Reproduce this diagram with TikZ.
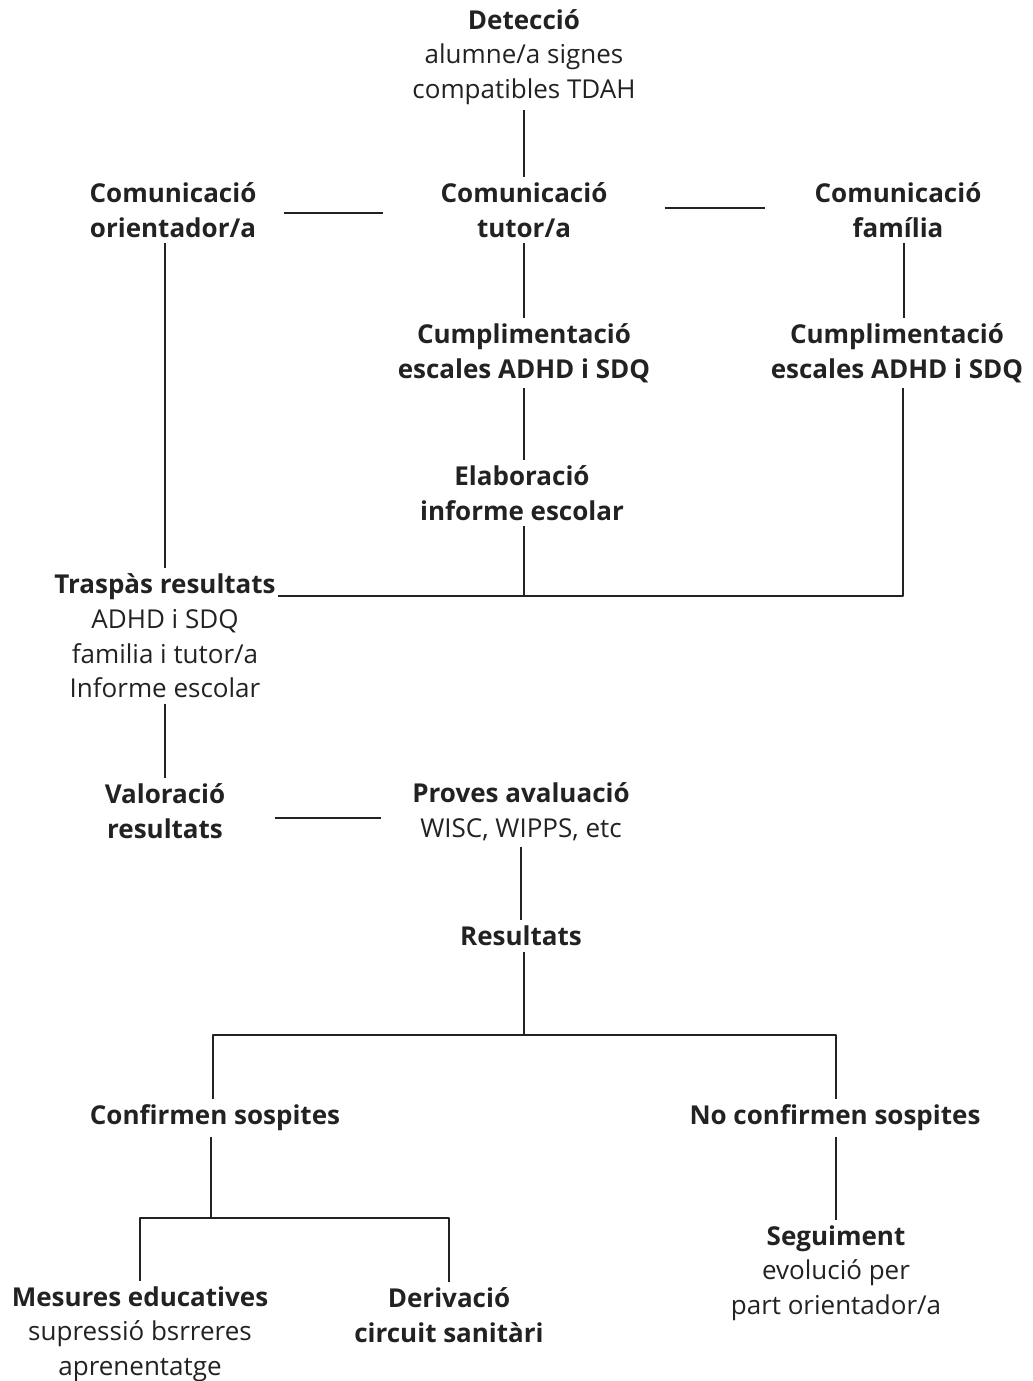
\documentclass[tikz,border=0pt]{standalone}
\usepackage{fontspec}
\setmainfont{Open Sans}
\definecolor{ink}{HTML}{222222}
\tikzset{
  box/.style={align=center, text=ink, inner xsep=0pt, inner ysep=4pt, font=\fontsize{19.5}{26}\selectfont},
  link/.style={draw=ink, line width=1.6pt}
}
\begin{document}
\begin{tikzpicture}[x=0.75pt, y=-0.75pt, line join=round]
\useasboundingbox (0,0) rectangle (1032,1381);

\node[box] (det) at (524,57) {\textbf{Detecció}\\alumne/a signes\\compatibles TDAH};
\node[box] (tut) at (524,210) {\textbf{Comunicació}\\\textbf{tutor/a}};
\node[box] (ori) at (173,210) {\textbf{Comunicació}\\\textbf{orientador/a}};
\node[box] (fam) at (898,210) {\textbf{Comunicació}\\\textbf{família}};
\node[box] (cumt) at (524,353) {\textbf{Cumplimentació}\\\textbf{escales ADHD i SDQ}};
\node[box] (cumf) at (897,353) {\textbf{Cumplimentació}\\\textbf{escales ADHD i SDQ}};
\node[box] (ela) at (522,493) {\textbf{Elaboració}\\\textbf{informe escolar}};
\node[box] (tra) at (165,636) {\textbf{Traspàs resultats}\\ADHD i SDQ\\familia i tutor/a\\Informe escolar};
\node[box] (val) at (165,811) {\textbf{Valoració}\\\textbf{resultats}};
\node[box] (pro) at (521,812) {\textbf{Proves avaluació}\\WISC, WIPPS, etc};
\node[box] (res) at (521,936) {\textbf{Resultats}};
\node[box] (con) at (215,1118) {\textbf{Confirmen sospites}};
\node[box] (nocon) at (835,1118) {\textbf{No confirmen sospites}};
\node[box] (mes) at (140,1334) {\textbf{Mesures educatives}\\supressió bsrreres\\aprenentatge};
\node[box] (der) at (449,1315) {\textbf{Derivació}\\\textbf{circuit sanitàri}};
\node[box] (seg) at (836,1273) {\textbf{Seguiment}\\evolució per\\part orientador/a};

\coordinate (trj) at (278,596);
\coordinate (resj) at (524,1035);
\coordinate (conj) at (211,1218);

\draw[link] (det) -- (tut);
\draw[link, shorten <=27pt*0.75, shorten >=57pt*0.75] (ori.east |- 0,213) -- (tut.west |- 0,213);
\draw[link, shorten <=57pt*0.75, shorten >=49pt*0.75] (tut.east |- 0,208) -- (fam.west |- 0,208);
\draw[link] (tut) -- (cumt);
\draw[link] (fam.south -| 904,0) -- (cumf.north -| 904,0);
\draw[link] (cumt.south) -- (cumt.south |- ela.north);
\draw[link] (ori.south -| tra) -- (tra);
\draw[link] (ela.south -| 524,0) -- (trj -| 524,0);
\draw[link] (cumf.south -| 903,0) |- (trj);
\draw[link] (tra) -- (val);
\draw[link, shorten <=49pt*0.75, shorten >=31pt*0.75] (val.east |- 0,818) -- (pro.west |- 0,818);
\draw[link] (pro) -- (res);
\draw[link] (res.south -| resj) -- (resj);
\draw[link] (con.north -| 213,0) |- (resj) -| (nocon.north -| 836,0);
\draw[link] (con.south -| conj) -- (conj);
\draw[link] (mes) |- (conj) -| (der);
\draw[link] (nocon.south -| seg) -- (seg);
\end{tikzpicture}
\end{document}
